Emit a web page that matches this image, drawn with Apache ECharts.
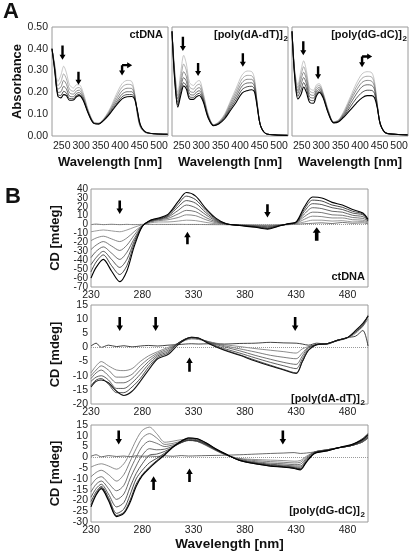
<!DOCTYPE html>
<html><head><meta charset="utf-8">
<style>html,body{margin:0;padding:0;background:#fff}#c{width:411px;height:552px}</style>
<script src="https://cdn.jsdelivr.net/npm/echarts@6/dist/echarts.min.js"></script>
</head><body><div id="c"></div>
<script>
// ---------- Panel A: absorbance spectra ----------
const absWl = [225, 232, 240, 248, 255, 262, 270, 280, 288, 295, 305, 318, 332, 345, 360, 375, 390, 405, 418, 430, 437, 444, 452, 465, 490, 522];
const absTicks = [250, 300, 350, 400, 450, 500];
const absCt = [
  [.40,.33,.25,.28,.32,.29,.235,.22,.235,.235,.20,.12,.065,.06,.085,.13,.19,.24,.255,.25,.20,.10,.04,.015,.01,.008],
  [.40,.32,.23,.25,.285,.262,.215,.205,.22,.222,.19,.116,.063,.058,.082,.124,.178,.224,.237,.234,.196,.105,.042,.016,.01,.008],
  [.40,.315,.215,.225,.255,.237,.198,.192,.207,.21,.181,.112,.061,.057,.08,.118,.166,.207,.219,.218,.19,.11,.045,.017,.01,.008],
  [.40,.31,.20,.203,.228,.215,.183,.18,.196,.199,.174,.109,.06,.056,.078,.113,.155,.192,.203,.203,.183,.115,.047,.018,.01,.008],
  [.40,.305,.19,.186,.205,.197,.172,.171,.187,.191,.168,.106,.059,.055,.076,.108,.146,.18,.19,.19,.176,.118,.05,.018,.01,.008],
  [.40,.30,.183,.175,.19,.185,.164,.165,.18,.185,.164,.104,.058,.055,.075,.105,.14,.17,.18,.181,.17,.12,.052,.019,.01,.008]
];
const absAT = [
  [.48,.30,.20,.30,.37,.33,.245,.232,.248,.255,.20,.10,.052,.065,.10,.16,.22,.28,.298,.295,.262,.15,.05,.012,.005,.003],
  [.48,.29,.185,.27,.33,.30,.225,.215,.232,.238,.19,.096,.051,.063,.096,.152,.207,.262,.278,.276,.25,.148,.05,.012,.005,.003],
  [.48,.28,.17,.245,.295,.272,.207,.20,.216,.222,.18,.092,.05,.061,.091,.143,.194,.245,.26,.26,.238,.145,.05,.012,.005,.003],
  [.48,.27,.155,.225,.268,.25,.193,.188,.202,.208,.172,.089,.049,.059,.087,.134,.181,.229,.243,.244,.226,.142,.05,.012,.005,.003],
  [.48,.262,.142,.205,.245,.23,.18,.177,.19,.196,.165,.086,.048,.057,.082,.125,.168,.213,.226,.228,.214,.138,.05,.012,.005,.003],
  [.48,.255,.132,.19,.23,.215,.17,.168,.18,.186,.158,.083,.047,.055,.078,.117,.155,.197,.208,.212,.202,.132,.05,.012,.005,.003]
];
const absGC = [
  [.48,.30,.235,.30,.345,.30,.22,.21,.235,.24,.20,.12,.065,.075,.12,.18,.24,.285,.295,.29,.25,.15,.05,.015,.008,.005],
  [.48,.294,.222,.278,.318,.279,.207,.198,.225,.232,.195,.117,.064,.073,.114,.17,.224,.265,.274,.27,.238,.145,.051,.015,.008,.005],
  [.48,.288,.208,.258,.292,.26,.193,.186,.214,.224,.19,.114,.063,.071,.108,.161,.209,.246,.255,.251,.226,.142,.052,.015,.008,.005],
  [.48,.282,.196,.236,.268,.24,.18,.174,.204,.216,.185,.111,.062,.069,.102,.148,.192,.226,.235,.232,.212,.138,.053,.015,.008,.005],
  [.48,.276,.182,.212,.245,.219,.167,.162,.194,.208,.18,.108,.061,.067,.096,.134,.172,.20,.21,.209,.195,.134,.054,.015,.008,.005],
  [.48,.27,.17,.19,.225,.20,.155,.15,.185,.20,.175,.105,.06,.065,.09,.12,.15,.175,.185,.185,.175,.13,.055,.015,.008,.005]
];
// arrows [x1, y1, x2, y2] in data units (tail -> head)
const absArrowsCt = [[252, 0.415, 252, 0.35], [293, 0.295, 293, 0.235], [405, 0.325, 405, 0.278], [405, 0.325, 431, 0.325]];
const absArrowsAT = [[253, 0.455, 253, 0.39], [292, 0.335, 292, 0.275], [407, 0.38, 407, 0.318]];
const absArrowsGC = [[254, 0.435, 254, 0.37], [292, 0.32, 292, 0.26], [405, 0.365, 405, 0.315], [405, 0.365, 431, 0.365]];

// ---------- Panel B: CD spectra ----------
const cdTicks = [230, 280, 330, 380, 430, 480];
const cdCtTicksY = [-70, -60, -50, -40, -30, -20, -10, 0, 10, 20, 30, 40];
const cdATTicksY = [-20, -15, -10, -5, 0, 5, 10, 15];
const cdGCTicksY = [-30, -25, -20, -15, -10, -5, 0, 5, 10, 15];
const cdCtWl = [230, 235, 242, 250, 258, 265, 272, 280, 288, 296, 305, 315, 323, 332, 342, 352, 362, 375, 390, 402, 412, 422, 430, 438, 446, 455, 465, 475, 485, 495, 500];
const cdCt = [
  [0, 0.6, 0, 0.4, 0, 0.3, 0, 0.3, 0.2, 0.3, 0.2, 0.3, 0.2, 0.2, 0.1, 0, 0, -0.3, -0.5, -0.5, -0.3, 0, 0.3, 1, 1.5, 2, 1.2, 2.5, 1.5, 2, 1],
  [-8, -7, -6, -7, -8, -6, -3, 0, 2, 3, 3, 4, 5, 4.5, 2.5, 1, 0, 0, -0.5, -1, -0.5, 0, 1, 3, 5, 5, 4, 4.5, 3, 3.5, 2],
  [-18, -15, -13, -16, -19, -15, -8, -1, 3, 4.5, 5.5, 8, 11, 10, 5.5, 2, 0.3, -0.3, -1, -1.5, -0.6, 0.3, 1.5, 6, 9.5, 9, 7.5, 7.5, 5.5, 5, 3],
  [-28, -23, -19, -24, -29, -23, -12, -1, 3.5, 5.5, 7, 12, 16, 14.5, 8, 3, 0.5, -0.5, -1.4, -2.3, -1, 0.5, 2, 9, 14, 13.5, 11, 10.5, 8, 7, 4],
  [-37, -30, -25, -32, -39, -31, -16, -1.5, 4, 6, 8.5, 16, 22, 19, 11, 4, 0.6, -0.6, -1.8, -3, -1.2, 0.6, 2.2, 12, 19, 18, 15, 14, 10.5, 9, 5],
  [-45, -37, -30, -39, -48, -39, -19, -1.5, 4.5, 6.5, 9.5, 20, 27, 24, 13.5, 5, 0.8, -0.8, -2.2, -3.8, -1.5, 0.8, 2.5, 15, 23.5, 22.5, 19, 17, 13, 11, 6],
  [-53, -42, -34, -46, -56, -46, -22, -2, 5, 7, 10.5, 23, 32, 28, 16, 6, 1, -1, -2.6, -4.4, -1.8, 0.9, 2.8, 17.5, 27.5, 26.5, 22, 19.5, 15, 12, 4],
  [-60, -48, -39, -52, -64, -52, -25, -2, 5, 7.5, 11.5, 26, 36, 32, 18, 7, 1, -1, -3, -5, -2, 1, 3, 20, 31, 30, 25, 22, 17, 13, 6]
];
const cdArrowsCt = [[258, 27, 258, 12], [324, -22, 324, -8], [402, 23, 402, 8], [450, -18, 450, -3]];

const cdATWl = [230, 235, 240, 247, 255, 262, 270, 278, 286, 295, 305, 315, 322, 328, 335, 345, 360, 375, 390, 405, 418, 430, 436, 442, 450, 460, 470, 480, 488, 495, 500];
const cdAT = [
  [0.5, 1.5, 0, 0.8, 0.3, 0.6, 0.2, 0.5, 0.7, 0.5, 0.8, 1, 1.2, 1.3, 1.2, 1.3, 1.2, 1.4, 1.5, 1.8, 1.6, 1.5, 1.2, 0.8, 1.5, 1.2, 2.5, 3.5, 4, 6, 0.5],
  [-9, -6.5, -5, -6.5, -8, -8.2, -7.5, -5, -3, -1.5, 0, 1.5, 2.5, 3, 2.8, 2, 1, 0.3, -0.4, -1, -1.5, -2, -0.5, 0.3, 1, 1.2, 2.3, 3.3, 5, 7.5, 10],
  [-10, -8, -6.5, -8, -10.5, -10.5, -9.5, -6.5, -4, -2, -0.5, 1.5, 2.8, 3.2, 3, 2, 0.6, -0.5, -1.6, -2.8, -3.5, -4, -2, 0.2, 1, 1.2, 2.5, 3.5, 5.5, 8, 11],
  [-11, -9, -8, -10, -12.5, -12.5, -11, -8, -5, -2.5, -1, 1.5, 3, 3.5, 3.2, 1.8, 0.2, -1.2, -2.8, -4.2, -5.3, -6, -3, 0, 1, 1.3, 2.5, 3.5, 5.5, 7.5, 11.5],
  [-12, -10.5, -10, -11.5, -14.5, -14.5, -12.5, -9.5, -6, -3, -1.5, 1.5, 3, 3.5, 3.2, 1.6, -0.4, -2, -3.7, -5.3, -6.5, -7.5, -4, -0.5, 1, 1.3, 2.5, 3.5, 5.5, 8, 11],
  [-13.5, -11.5, -11, -13, -16, -16, -14, -11, -7, -3.5, -2, 1.5, 3, 3.6, 3.2, 1.4, -0.8, -2.6, -4.5, -6.3, -7.8, -9, -5, -1, 1, 1.3, 2.5, 3.5, 6, 8.5, 11],
  [-14, -12, -11.5, -12.5, -15.5, -17, -15.5, -12, -8, -4, -2.5, 1, 2.8, 3.6, 3.3, 1.3, -1, -2.8, -4.8, -6.6, -8, -9.2, -5, -1, 1, 1.3, 2.5, 3.5, 6, 8.5, 11]
];
const cdArrowsAT = [[258, 10.8, 258, 5.8], [293, 10.8, 293, 5.8], [429, 10.8, 429, 5.8], [326, -8.6, 326, -3.6]];

const cdGCWl = [230, 235, 240, 247, 255, 262, 268, 274, 280, 287, 294, 302, 310, 318, 325, 333, 342, 352, 362, 375, 390, 405, 418, 428, 434, 440, 448, 460, 472, 484, 494, 500];
const cdGC = [
  [0.5, 1.2, 0.2, 0.8, 0.4, 0.6, 0.3, 0.7, 0.5, 0.6, 0.4, 0.7, 0.5, 0.8, 0.6, 0.7, 0.8, 0.9, 1, 1.2, 1.5, 1.8, 2, 2.2, 1.8, 2, 2.5, 3.5, 4.5, 5.5, 7, 9],
  [-4.5, -3.5, -3, -4, -5.5, -3, 2, 8, 12.5, 14, 11, 7, 7.5, 8.2, 8.3, 7.5, 5.5, 3, 1, -0.5, -1, -1.3, -1.5, -1.8, -1.5, 0.5, 2.5, 3.5, 4.5, 5.5, 7, 9],
  [-9, -7, -6, -8, -11, -8, -2, 4, 9, 11, 9, 6, 6.5, 7.5, 8, 7.5, 5.7, 3.2, 1, -0.7, -1.5, -2, -2.3, -2.6, -2.3, 0, 2.5, 3.5, 4.5, 5.5, 7, 9],
  [-13, -10, -9, -12, -15.5, -13, -6, 0, 5, 7.5, 6.5, 5, 5.8, 7, 7.8, 7.5, 5.8, 3.3, 1.1, -1, -2, -2.7, -3, -3.4, -3.2, -0.5, 2.5, 3.5, 4.5, 5.5, 7, 9],
  [-16, -12.5, -11, -14.5, -19.5, -17, -10, -4, 1, 4, 3.5, 3.8, 5.2, 6.8, 7.8, 7.6, 6, 3.4, 1.1, -1.2, -2.4, -3.2, -3.6, -4, -4, -1, 2.3, 3.3, 4.5, 5.5, 7.5, 9.5],
  [-18.5, -14.5, -12.5, -17, -23, -21, -14, -7.5, -3, 1, 1.5, 2.8, 4.8, 6.8, 8, 7.8, 6.2, 3.5, 1.2, -1.3, -2.6, -3.5, -4, -4.5, -4.6, -1.5, 2, 3.3, 4.5, 5.5, 7.5, 9.5],
  [-20.5, -16, -13.5, -18.5, -26, -24, -17.5, -10, -6, -2.5, -0.5, 2, 4.8, 7.2, 8.6, 8.2, 6.4, 3.6, 1.3, -1.4, -2.8, -3.8, -4.3, -4.8, -5.2, -2, 2, 3.2, 4.5, 5.5, 8, 10],
  [-22, -17, -14, -19.5, -27, -25.5, -20, -12.5, -8, -4.5, -1.5, 1.5, 5, 7.6, 9, 8.6, 6.7, 3.8, 1.4, -1.5, -3, -4, -4.5, -5, -5.5, -2, 2, 3, 4.5, 5.8, 8.5, 11],
  [-23, -17.5, -14.5, -20, -27.5, -26, -21, -13.5, -8.5, -5, -2, 1.2, 4.8, 7.5, 9, 8.7, 6.8, 3.9, 1.4, -1.5, -3, -4.1, -4.6, -5.2, -5.8, -2.2, 1.8, 3, 4.6, 6, 8, 10.5]
];
const cdArrowsGC = [[257, 12.5, 257, 6], [417, 12.5, 417, 6], [291, -15.2, 291, -8.8], [326, -11.5, 326, -5.2]];

// ---------- chart ----------
const FONT = 'Arial, "Liberation Sans", Helvetica, sans-serif';
const chart = echarts.init(document.getElementById('c'), null, {renderer: 'canvas'});

const gridBoxes = [
  {left: 52, top: 27, width: 116, height: 109},
  {left: 172, top: 27, width: 116, height: 109},
  {left: 292, top: 27, width: 116, height: 109},
  {left: 91, top: 189, width: 277, height: 98},
  {left: 91, top: 305, width: 277, height: 99},
  {left: 91, top: 425, width: 277, height: 98}
];
const grid = gridBoxes.map(g => Object.assign({show: true, borderColor: '#9a9a9a', borderWidth: 1, backgroundColor: 'transparent'}, g));

const lblStyle = {fontSize: 10.5, color: '#222', fontFamily: FONT};
const nameStyle = {fontSize: 13, fontWeight: 'bold', color: '#111', fontFamily: FONT};

const xAxis = [];
const yAxis = [];
for (let i = 0; i < 3; i++) {
  xAxis.push({gridIndex: i, type: 'value', min: 225, max: 523,
    axisLine: {show: false}, axisTick: {show: false}, splitLine: {show: false},
    axisLabel: Object.assign({customValues: absTicks, margin: 5, hideOverlap: false}, lblStyle),
    name: 'Wavelength [nm]', nameLocation: 'middle', nameGap: 20, nameTextStyle: nameStyle});
  yAxis.push({gridIndex: i, type: 'value', min: 0, max: 0.5, interval: 0.1,
    axisLine: {show: false}, axisTick: {show: false}, splitLine: {show: false},
    axisLabel: Object.assign({show: i === 0, margin: 4, showMinLabel: true, showMaxLabel: true, formatter: v => v.toFixed(2)}, lblStyle),
    name: i === 0 ? 'Absorbance' : '', nameLocation: 'middle', nameGap: 28, nameTextStyle: nameStyle});
}
const cdY = [[-70, 40, 10, cdCtTicksY, 10], [-20, 15, 5, cdATTicksY, 10.5], [-30, 15, 5, cdGCTicksY, 10.5]];
for (let k = 0; k < 3; k++) {
  xAxis.push({gridIndex: 3 + k, type: 'value', min: 230, max: 500,
    axisLine: {show: false}, axisTick: {show: false}, splitLine: {show: false},
    axisLabel: Object.assign({customValues: cdTicks, margin: 3}, lblStyle),
    name: k === 2 ? 'Wavelength [nm]' : '', nameLocation: 'middle', nameGap: 15, nameTextStyle: Object.assign({}, nameStyle, {fontSize: 13.5})});
  // tick labels of these dense axes are drawn below as text at the axis' own pixel positions
  yAxis.push({gridIndex: 3 + k, type: 'value', min: cdY[k][0], max: cdY[k][1], interval: cdY[k][2],
    axisLine: {show: false}, axisTick: {show: false}, splitLine: {show: false},
    axisLabel: {show: false},
    name: 'CD [mdeg]', nameLocation: 'middle', nameGap: 29, nameTextStyle: nameStyle});
}

const series = [];
function grayRamp(n, from, to) {
  const out = [];
  for (let k = 0; k < n; k++) {
    const v = Math.round(from + (to - from) * (n === 1 ? 1 : k / (n - 1)));
    out.push('rgb(' + v + ',' + v + ',' + v + ')');
  }
  return out;
}
function addCurves(curves, wl, gi, colors, firstColor) {
  curves.forEach((vals, k) => {
    series.push({type: 'line', xAxisIndex: gi, yAxisIndex: gi, silent: true, animation: false,
      data: wl.map((w, i) => [w, vals[i]]), showSymbol: false, symbol: 'none', smooth: 0.3,
      lineStyle: {color: (k === 0 && firstColor) ? firstColor : colors[k], width: k === curves.length - 1 ? 1.1 : 0.8},
      z: 2 + k});
  });
}
function addZero(gi) {
  series.push({type: 'line', xAxisIndex: gi, yAxisIndex: gi, data: [], silent: true, animation: false,
    markLine: {silent: true, animation: false, symbol: 'none', label: {show: false},
      lineStyle: {color: '#999', width: 1, type: 'dotted'}, data: [{yAxis: 0}]}, z: 1});
}

addCurves(absCt, absWl, 0, grayRamp(absCt.length, 185, 0));
addCurves(absAT, absWl, 1, grayRamp(absAT.length, 185, 0));
addCurves(absGC, absWl, 2, grayRamp(absGC.length, 185, 0));
addZero(3); addZero(4); addZero(5);
addCurves(cdCt, cdCtWl, 3, grayRamp(cdCt.length, 150, 0), '#555');
addCurves(cdAT, cdATWl, 4, grayRamp(cdAT.length, 130, 20), '#111');
addCurves(cdGC, cdGCWl, 5, grayRamp(cdGC.length, 130, 0), '#444');

function txt(text, x, y, size, align, bold) {
  return {type: 'text', x: x, y: y, silent: true, z: 100,
    style: {text: text, fill: bold === false ? '#222' : '#111', font: (bold === false ? '' : 'bold ') + size + 'px ' + FONT, textAlign: align || 'left', textVerticalAlign: 'middle'}};
}
const graphic = [
  txt('A', 3, 12, 22),
  txt('B', 5, 197, 22),
  txt('ctDNA', 163, 35, 11, 'right'),
  txt('[poly(dA-dT)]', 283, 35, 11, 'right'),
  txt('2', 283.5, 39, 8, 'left'),
  txt('[poly(dG-dC)]', 402, 35, 11, 'right'),
  txt('2', 402.5, 39, 8, 'left'),
  txt('ctDNA', 365, 277, 11, 'right'),
  txt('[poly(dA-dT)]', 360, 399, 11, 'right'),
  txt('2', 360.5, 403, 8, 'left'),
  txt('[poly(dG-dC)]', 360, 511, 11, 'right'),
  txt('2', 360.5, 515, 8, 'left')
];

chart.setOption({animation: false, backgroundColor: '#fff', grid: grid, xAxis: xAxis, yAxis: yAxis, series: series, graphic: graphic});

// y tick labels for the CD panels, placed through the axes' own scales
const tickGraphics = [];
for (let k = 0; k < 3; k++) {
  cdY[k][3].forEach(v => {
    const p = chart.convertToPixel({gridIndex: 3 + k}, [230, v]);
    tickGraphics.push(txt(String(v), p[0] - 3, p[1], cdY[k][4], 'right', false));
  });
}

// arrows: positioned through the axes' own scales
function arrowShape(gi, a, shaft, headW, headL) {
  const p1 = chart.convertToPixel({gridIndex: gi}, [a[0], a[1]]);
  const p2 = chart.convertToPixel({gridIndex: gi}, [a[2], a[3]]);
  const dx = p2[0] - p1[0], dy = p2[1] - p1[1];
  const len = Math.sqrt(dx * dx + dy * dy) || 1;
  const ux = dx / len, uy = dy / len, nx = -uy, ny = ux;
  const bx = p2[0] - ux * headL, by = p2[1] - uy * headL;
  const s = shaft / 2, h = headW / 2;
  return {type: 'polygon', silent: true, z: 90,
    shape: {points: [
      [p1[0] + nx * s, p1[1] + ny * s], [bx + nx * s, by + ny * s], [bx + nx * h, by + ny * h],
      [p2[0], p2[1]],
      [bx - nx * h, by - ny * h], [bx - nx * s, by - ny * s], [p1[0] - nx * s, p1[1] - ny * s]]},
    style: {fill: '#000'}};
}
const arrowGraphics = [];
absArrowsCt.forEach(a => arrowGraphics.push(arrowShape(0, a, 2.4, 6, 5)));
absArrowsAT.forEach(a => arrowGraphics.push(arrowShape(1, a, 2.4, 6, 5)));
absArrowsGC.forEach(a => arrowGraphics.push(arrowShape(2, a, 2.4, 6, 5)));
cdArrowsCt.forEach((a, i) => arrowGraphics.push(arrowShape(3, a, i === 3 ? 3.6 : 2.6, i === 3 ? 8 : 6.5, 5.5)));
cdArrowsAT.forEach(a => arrowGraphics.push(arrowShape(4, a, 2.6, 6.5, 5.5)));
cdArrowsGC.forEach(a => arrowGraphics.push(arrowShape(5, a, 2.6, 6.5, 5.5)));
chart.setOption({graphic: graphic.concat(tickGraphics, arrowGraphics)});
</script>
</body></html>
